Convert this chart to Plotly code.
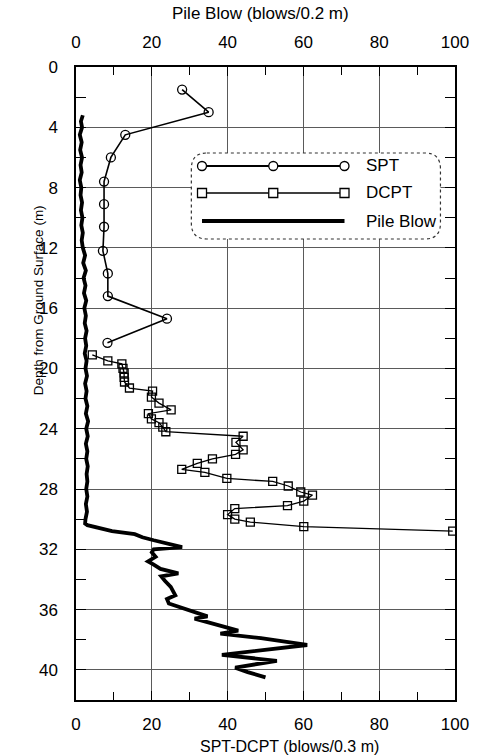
import plotly.graph_objects as go

# ---------------- data ----------------
spt_depth = [1.5, 3.0, 4.5, 6.0, 7.6, 9.1, 10.6, 12.2, 13.7, 15.2, 16.7, 18.3]
spt_blows = [28, 35, 13, 9.2, 7.4, 7.4, 7.4, 7.1, 8.4, 8.4, 24, 8.3]

dcpt_depth = [19.1, 19.5, 19.7, 20.0, 20.3, 20.6, 20.9, 21.3, 21.5, 21.9, 22.3, 22.75,
              23.0, 23.35, 23.6, 23.9, 24.2, 24.5, 24.9, 25.4, 25.7, 26.0, 26.3, 26.7,
              26.9, 27.3, 27.5, 27.8, 28.2, 28.4, 28.8, 29.1, 29.3, 29.7, 30.0, 30.2,
              30.5, 30.8]
dcpt_blows = [4.3, 8.4, 12.1, 12.4, 12.7, 12.7, 12.8, 14.1, 20.2, 19.9, 21.9, 25.1,
              19.1, 19.9, 21.9, 22.9, 23.7, 44.1, 42.2, 44.1, 42.1, 36.0, 32.0, 27.9,
              34.0, 39.8, 51.9, 56.0, 59.3, 62.4, 60.1, 55.8, 41.9, 40.0, 41.9, 46.0,
              60.1, 99.4]

pile_depth = [3.2, 3.6, 4.0, 4.5, 5.0, 5.5, 6.0, 6.5, 7.0, 7.5, 8.0, 8.5, 9.0, 9.5,
              10.0, 10.5, 11.0, 11.5, 12.0, 12.5, 13.0, 13.5, 14.0, 14.5, 15.0, 15.5,
              16.0, 16.5, 17.0, 17.5, 18.0, 18.5, 19.0, 19.5, 20.0, 20.5, 21.0, 21.5,
              22.0, 22.5, 23.0, 23.5, 24.0, 24.5, 25.0, 25.5, 26.0, 26.5, 27.0, 27.5,
              28.0, 28.5, 29.0, 29.5, 30.0, 30.3,
              30.4, 30.6, 30.8, 31.0, 31.2, 31.4, 31.6, 31.85, 32.0, 32.2, 32.5, 32.8,
              33.0, 33.3, 33.6, 33.8, 34.1, 34.5, 35.05, 35.3, 35.6, 36.0, 36.3, 36.45,
              36.6, 37.1, 37.4, 37.6, 37.9, 38.35, 38.6, 38.75, 39.0, 39.4, 39.85,
              40.15, 40.5]
pile_blows = [1.8, 1.3, 1.6, 1.0, 1.5, 1.1, 1.6, 1.2, 1.5, 1.0, 1.4, 1.2, 1.6, 1.3,
              1.7, 1.4, 1.8, 1.5, 1.8, 2.4, 1.9, 2.6, 2.0, 2.5, 2.1, 2.7,
              2.2, 2.6, 2.3, 2.8, 2.4, 2.7, 2.3, 2.8, 2.5, 2.9, 2.4, 2.8,
              2.5, 3.0, 2.6, 3.2, 2.7, 3.1, 2.6, 3.0, 2.7, 3.1, 2.8, 3.0,
              2.7, 3.0, 2.6, 2.9, 2.5, 2.4,
              3.0, 6.0, 9.5, 15.5, 17.5, 20.5, 24.0, 28.0, 20.5, 20.0, 21.0, 19.0,
              20.4, 22.3, 27.0, 22.5, 23.5, 25.0, 26.2, 24.0, 24.5, 29.2, 32.6, 34.7,
              31.3, 38.1, 42.8, 38.1, 48.8, 61.0, 52.2, 48.8, 38.5, 53.0, 42.0,
              45.3, 50.0]

x_ticks = [0, 20, 40, 60, 80, 100]
y_ticks = [0, 4, 8, 12, 16, 20, 24, 28, 32, 36, 40]

# ---------------- layout geometry (pixels) ----------------
W, H = 481, 756
L, R, T, B = 76, 467, 67, 700
FONT = "Liberation Sans, Arial, sans-serif"
GRID = "#5a5a5a"


def px(x):
    return (x - L) / (R - L)


def py(y):
    return (B - y) / (B - T)


fig = go.Figure()

fig.add_trace(go.Scatter(
    x=spt_blows, y=spt_depth, mode="lines+markers", name="SPT",
    line=dict(color="black", width=1.6),
    marker=dict(symbol="circle-open", size=9, color="black", line=dict(width=1.3)),
    xaxis="x", yaxis="y", showlegend=False))

fig.add_trace(go.Scatter(
    x=dcpt_blows, y=dcpt_depth, mode="lines+markers", name="DCPT",
    line=dict(color="black", width=1.3),
    marker=dict(symbol="square-open", size=8, color="black", line=dict(width=1.3)),
    xaxis="x", yaxis="y", showlegend=False))

fig.add_trace(go.Scatter(
    x=pile_blows, y=pile_depth, mode="lines", name="Pile Blow",
    line=dict(color="black", width=3.8),
    xaxis="x2", yaxis="y", showlegend=False))

axis_common = dict(
    range=[0, 100], tickmode="array", tickvals=x_ticks, ticks="inside", ticklen=9,
    tickwidth=1.3, tickcolor="black", showline=True, linecolor="black", linewidth=1.5,
    tickfont=dict(family=FONT, size=17, color="black"),
    ticklabeloverflow="allow",
    minor=dict(dtick=10, tick0=0, ticks="inside", ticklen=8, tickwidth=1.2,
               tickcolor="black"),
    zeroline=False,
)

shapes = []
annotations = []

# legend box (rounded, dashed)
bx0, bx1, by0, by1, rr = 195, 452, 153, 239, 16
path = (f"M {px(bx0+rr)},{py(by0)} L {px(bx1-rr)},{py(by0)} "
        f"Q {px(bx1)},{py(by0)} {px(bx1)},{py(by0+rr)} "
        f"L {px(bx1)},{py(by1-rr)} Q {px(bx1)},{py(by1)} {px(bx1-rr)},{py(by1)} "
        f"L {px(bx0+rr)},{py(by1)} Q {px(bx0)},{py(by1)} {px(bx0)},{py(by1-rr)} "
        f"L {px(bx0)},{py(by0+rr)} Q {px(bx0)},{py(by0)} {px(bx0+rr)},{py(by0)} Z")
shapes.append(dict(type="path", path=path, xref="paper", yref="paper",
                   line=dict(color="#333", width=1.2, dash="dot"),
                   fillcolor="white", layer="above"))

lx0, lx1 = 206, 353
rows = [(166, "SPT", "circle", 1.8), (193, "DCPT", "square", 1.5), (221, "Pile Blow", None, 4)]
for yy, label, sym, lw in rows:
    shapes.append(dict(type="line", xref="paper", yref="paper",
                       x0=px(lx0), x1=px(lx1), y0=py(yy), y1=py(yy),
                       line=dict(color="black", width=lw), layer="above"))
    if sym:
        for mx in (lx0, (lx0 + lx1) / 2, lx1):
            shapes.append(dict(type="circle" if sym == "circle" else "rect",
                               xref="paper", yref="paper",
                               xsizemode="pixel", ysizemode="pixel",
                               xanchor=px(mx), yanchor=py(yy),
                               x0=-4.5, x1=4.5, y0=-4.5, y1=4.5,
                               line=dict(color="black", width=1.3),
                               fillcolor="white", layer="above"))
    annotations.append(dict(text=label, xref="paper", yref="paper",
                            x=px(373), y=py(yy), xanchor="left", yanchor="middle",
                            showarrow=False,
                            font=dict(family=FONT, size=17, color="black")))

# axis titles as annotations for exact placement
annotations.append(dict(text="Pile Blow (blows/0.2 m)", xref="paper", yref="paper",
                        x=px(266), y=py(13), xanchor="center", yanchor="middle",
                        showarrow=False, font=dict(family=FONT, size=17, color="black")))
annotations.append(dict(text="SPT-DCPT (blows/0.3 m)", xref="paper", yref="paper",
                        x=px(296), y=py(746), xanchor="center", yanchor="middle",
                        showarrow=False, font=dict(family=FONT, size=16, color="black")))
annotations.append(dict(text="Depth from Ground Surface (m)", xref="paper", yref="paper",
                        x=px(37), y=py(300), xanchor="center", yanchor="middle",
                        textangle=-90, showarrow=False,
                        font=dict(family=FONT, size=13.5, color="black")))

fig.update_layout(
    width=W, height=H,
    margin=dict(l=L, r=W - R, t=T, b=H - B, pad=0),
    paper_bgcolor="white", plot_bgcolor="rgba(0,0,0,0)",
    xaxis=dict(**axis_common, side="bottom", showgrid=True, gridcolor=GRID,
               gridwidth=1, ticklabelstandoff=8),
    xaxis2=dict(**axis_common, side="top", overlaying="x", showgrid=False,
                ticklabelstandoff=10),
    yaxis=dict(range=[42, 0], tickmode="array", tickvals=y_ticks, ticks="inside",
               ticklen=10, tickwidth=1.3, tickcolor="black", showline=True,
               linecolor="black", linewidth=1.5, mirror="ticks", showgrid=True,
               gridcolor=GRID, gridwidth=1,
               zeroline=False, ticklabelstandoff=13,
               tickfont=dict(family=FONT, size=17, color="black"),
               minor=dict(dtick=2, tick0=0, ticks="inside", ticklen=10,
                          tickwidth=1.2, tickcolor="black")),
    shapes=shapes,
    annotations=annotations,
    showlegend=False,
)

fig.write_html(
    "out.html",
    config={"displayModeBar": False},
    post_script="document.body.style.margin='0';document.body.style.padding='0';"
                "document.body.style.overflow='hidden';",
)
